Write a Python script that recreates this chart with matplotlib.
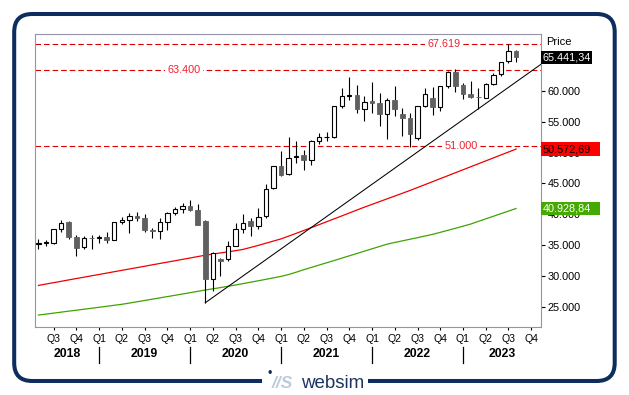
import matplotlib
matplotlib.use('Agg')
import matplotlib.pyplot as plt
import matplotlib.patches as mpatches
import matplotlib.transforms as mtransforms
from matplotlib.ticker import FuncFormatter, FixedLocator
import numpy as np
import pandas as pd

plt.rcParams['font.family'] = ['Liberation Sans', 'DejaVu Sans']

# monthly candles, May 2018 .. Aug 2023
months = pd.period_range('2018-05', '2023-08', freq='M')

opens = [35160, 35380, 35410, 37640, 38700, 36275, 34620, 36200,
         36150, 36300, 35890, 38700, 39000, 39740, 39450, 37500, 37250, 38700, 40200, 40800,
         41350, 40750, 38900, 29500, 32750, 32800, 34900, 37600, 38900, 38100, 39700, 44200,
         47800, 46600, 49250, 49600, 48800, 51950, 52500, 52600, 57600, 59200, 59400, 57100,
         58300, 58000, 56200, 58600, 56300, 55600, 52400, 57600, 58800, 57400, 60800, 63100,
         60900, 59500, 59000, 58900, 61100, 62700, 64800, 66500]
highs = [35993, 35877, 37645, 38990, 38935, 36616, 36389, 36555,
         36701, 37172, 38749, 39487, 40125, 40312, 40032, 37808, 39441, 40392, 41163, 41810,
         42273, 41709, 39084, 33887, 32845, 35706, 38618, 40010, 39360, 41048, 44825, 47897,
         50184, 52517, 51822, 50375, 52013, 53126, 53290, 57625, 60412, 62245, 61036, 59203,
         61475, 59618, 58890, 60845, 57184, 56432, 57619, 60411, 60676, 60786, 63303, 63583,
         61343, 61682, 60498, 61209, 62934, 64768, 67619, 66659]
lows = [34302, 34785, 35107, 37129, 35986, 33292, 34303, 34426,
        35376, 35287, 35780, 38460, 36956, 38871, 37129, 36102, 35988, 37415, 39950, 40135,
        40476, 38220, 25639, 27501, 29968, 32348, 34800, 36911, 36496, 37663, 39335, 44119,
        46160, 46433, 48236, 47204, 48028, 51450, 51802, 52416, 57263, 58551, 56383, 55132,
        56410, 54383, 52260, 56009, 52632, 50921, 52094, 57367, 56147, 56683, 60425, 59754,
        58699, 58795, 57085, 58793, 61002, 62359, 64600, 64723]
closes = [35322, 35423, 37607, 38645, 36227, 34442, 36194, 36068,
          36257, 35867, 38673, 39032, 39714, 39395, 37481, 37333, 38667, 40129, 40794, 41254,
          40723, 38297, 29468, 33717, 32424, 34916, 37607, 38628, 38068, 39614, 44150, 47751,
          46286, 49100, 49509, 48782, 51937, 52483, 52587, 57552, 59126, 59307, 57065, 58254,
          58014, 56247, 58569, 57061, 55566, 53019, 57570, 59537, 57427, 60747, 63100, 60841,
          59550, 58962, 58992, 61112, 62622, 64719, 66528, 65441]

ma_red = [28450, 28680, 28900, 29120, 29350, 29570, 29790, 30010,
          30230, 30450, 30680, 30900, 31120, 31340, 31560, 31790, 32010, 32230, 32450, 32680,
          32900, 33130, 33350, 33540, 33720, 33900, 34090, 34300, 34620, 34950, 35300, 35650,
          36000, 36450, 36900, 37370, 37830, 38300, 38780, 39250, 39720, 40200, 40680, 41150,
          41600, 42050, 42500, 42950, 43400, 43850, 44330, 44810, 45290, 45770, 46250, 46730,
          47210, 47690, 48170, 48650, 49130, 49610, 50090, 50573]
ma_green = [23650, 23800, 23960, 24120, 24280, 24430, 24590, 24750,
            24910, 25070, 25230, 25390, 25590, 25800, 26010, 26220, 26430, 26640, 26850, 27060,
            27270, 27490, 27710, 27900, 28100, 28310, 28520, 28750, 28980, 29210, 29440, 29680,
            29920, 30220, 30600, 31000, 31380, 31750, 32120, 32490, 32870, 33250, 33630, 34010,
            34390, 34770, 35150, 35420, 35680, 35940, 36200, 36470, 36740, 37060, 37390, 37720,
            38060, 38400, 38830, 39250, 39670, 40090, 40510, 40929]

levels = [67619, 63400, 51000]
level_labels = ['67.619', '63.400', '51.000']
last_price = 65441.34
last_red = 50572.69
last_green = 40928.84
trend_start = '2020-03'
trend_through = '2023-03'

NAVY = '#0c2d5e'
RED = '#e8101a'


def fmt_int(v, pos=None):
    return f"{v:,.0f}".replace(',', '.')


def fmt_dec(v):
    return f"{v:,.2f}".replace(',', 'X').replace('.', ',').replace('X', '.')


fig = plt.figure(figsize=(6.29, 3.95), dpi=100)
fig.patch.set_facecolor('white')
ax = fig.add_axes([35 / 629, 1 - 327.3 / 395, 506 / 629, 293.3 / 395])

x = np.arange(len(months))
o = np.array(opens, float)
h = np.array(highs, float)
l = np.array(lows, float)
c = np.array(closes, float)
up = c >= o

# moving averages
ax.plot(x, ma_red, color='#ee0000', lw=0.9, zorder=2)
ax.plot(x, ma_green, color='#3fa300', lw=0.9, zorder=2)

# trend line through the two lows, extended to the right edge
xlim = (-0.46, 66.29)
i0 = list(months.astype(str)).index(trend_start)
i1 = list(months.astype(str)).index(trend_through)
slope = (lows[i1] - lows[i0]) / (i1 - i0)
ax.plot([i0, xlim[1]], [lows[i0], lows[i0] + slope * (xlim[1] - i0)],
        color='black', lw=0.75, zorder=2)

# horizontal levels
label_pos = [53.5, 19.2, 55.7]
for lv, txt, px in zip(levels, level_labels, label_pos):
    ax.axhline(lv, color='#dd0000', lw=0.8, dashes=(5.0, 2.7), zorder=1)
    ax.text(px, lv, txt, ha='center', va='center', fontsize=7.8, color='#ee2233',
            bbox=dict(fc='white', ec='none', pad=1.8), zorder=1.5)

# candles
ax.vlines(x, l, h, color='black', lw=0.8, zorder=3)
body_lo = np.minimum(o, c)
body_h = np.abs(c - o)
ax.bar(x[up], body_h[up], bottom=body_lo[up], width=0.58, facecolor='white',
       edgecolor='black', linewidth=0.8, zorder=4)
ax.bar(x[~up], body_h[~up], bottom=body_lo[~up], width=0.62, facecolor='#606060',
       edgecolor='#606060', linewidth=0.6, zorder=4)

ax.set_xlim(*xlim)
ax.set_ylim(21659, 69234)

# right price axis
ax.yaxis.tick_right()
ax.yaxis.set_major_locator(FixedLocator(np.arange(25000, 65001, 5000)))
ax.yaxis.set_major_formatter(FuncFormatter(fmt_int))
ax.tick_params(axis='y', which='major', length=3, width=0.8, pad=1.5,
               labelsize=7.8, colors='black')
for s in ax.spines.values():
    s.set_color('#9494a4')
    s.set_linewidth(0.8)

# quarter labels
q_months = pd.period_range('2018-05', '2023-11', freq='M')
q_idx = [i for i, m in enumerate(q_months) if m.month in (1, 4, 7, 10) and i <= xlim[1]]
ax.set_xticks(q_idx)
ax.set_xticklabels([f"Q{(q_months[i].month - 1) // 3 + 1}" for i in q_idx])
ax.tick_params(axis='x', length=2.2, width=0.8, pad=2.5, labelsize=7.6, colors='black')

# year labels and separators
bt = mtransforms.blended_transform_factory(ax.transData, ax.transAxes)
jan_idx = [i for i in q_idx if q_months[i].month == 1]
bounds = [xlim[0]] + jan_idx + [xlim[1]]
years = [q_months[0].year + k for k in range(len(bounds) - 1)]
for j in jan_idx:
    ax.plot([j, j], [-0.067, -0.122], transform=bt, color='black', lw=0.9, clip_on=False)
for k, yr in enumerate(years):
    ax.text((bounds[k] + bounds[k + 1]) / 2, -0.091, str(yr), transform=bt, ha='center',
            va='center', fontsize=8.8, fontweight='bold', clip_on=False)

# value boxes on the right
rt = mtransforms.blended_transform_factory(ax.transAxes, ax.transData)
box_h = 13.5 / 293.3 * (69234 - 21659)
for val, fc, tc, w in [(last_price, 'black', 'white', 51 / 506),
                       (last_red, '#ff0000', 'black', 59 / 506),
                       (last_green, '#44aa00', 'white', 59 / 506)]:
    ax.add_patch(mpatches.Rectangle((1.0, val - box_h / 2), w, box_h, transform=rt,
                                    facecolor=fc, edgecolor='none', clip_on=False, zorder=10))
    ax.text(1.0 + 1.5 / 506, val, fmt_dec(val), transform=rt, ha='left', va='center',
            fontsize=7.8, color=tc, clip_on=False, zorder=11)

fig.text(546 / 629, 1 - 41.7 / 395, 'Price', ha='left', va='center', fontsize=8)

# outer rounded frame
frame = mpatches.FancyBboxPatch((0.142, 0.14), 6.005, 3.67,
                                boxstyle='round,pad=0,rounding_size=0.18',
                                transform=fig.dpi_scale_trans, facecolor='none',
                                edgecolor=NAVY, linewidth=2.9, zorder=0)
fig.patches.append(frame)
fig.patches.append(mpatches.Rectangle((2.62, 0.06), 1.06, 0.18, transform=fig.dpi_scale_trans,
                                      facecolor='white', edgecolor='none', zorder=1))

# websim logo
fig.text(2.70, 0.215, '\u2022', transform=fig.dpi_scale_trans, ha='center', va='center',
         fontsize=9, color=NAVY, zorder=3)
fig.text(2.72, 0.067, '//S', transform=fig.dpi_scale_trans, ha='left', va='baseline',
         fontsize=12.5, fontweight='bold', fontstyle='italic', color='#bccade', zorder=3)
fig.text(3.01, 0.067, 'websim', transform=fig.dpi_scale_trans, ha='left', va='baseline',
         fontsize=13.5, color='#1d3461', zorder=3)

fig.savefig('out.png', dpi=100, facecolor='white')
